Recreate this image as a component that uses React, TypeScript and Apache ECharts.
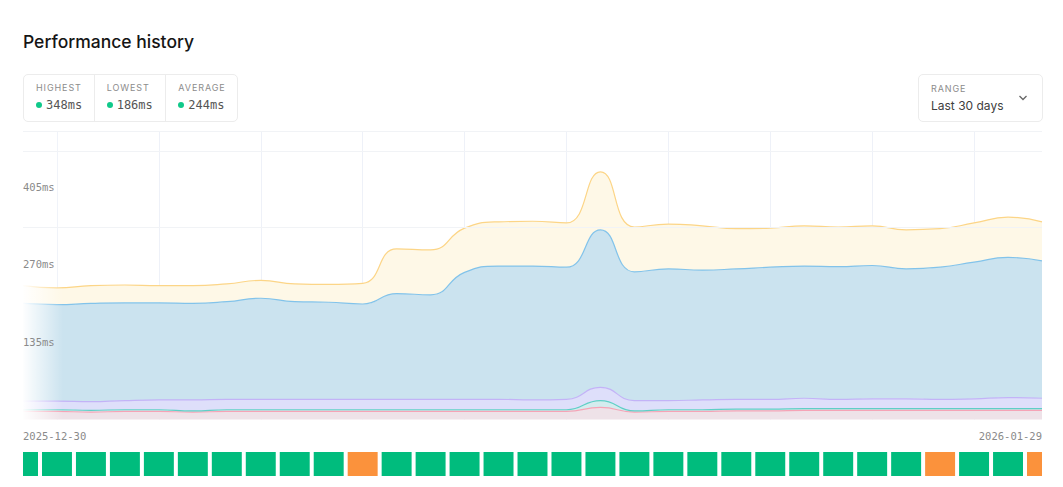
import { useEffect, useRef } from 'react';
import * as echarts from 'echarts';

// one point per day, 2025-12-30 .. 2026-01-29
const days = [
  '2025-12-30', '2025-12-31', '2026-01-01', '2026-01-02', '2026-01-03', '2026-01-04',
  '2026-01-05', '2026-01-06', '2026-01-07', '2026-01-08', '2026-01-09', '2026-01-10',
  '2026-01-11', '2026-01-12', '2026-01-13', '2026-01-14', '2026-01-15', '2026-01-16',
  '2026-01-17', '2026-01-18', '2026-01-19', '2026-01-20', '2026-01-21', '2026-01-22',
  '2026-01-23', '2026-01-24', '2026-01-25', '2026-01-26', '2026-01-27', '2026-01-28',
  '2026-01-29',
];

// stacked timing phases, bottom to top (ms)
const dnsMs = [14, 14, 13, 14, 14, 13, 14, 14, 14, 14, 14, 14, 14, 14, 14, 14, 14, 21, 13, 14, 14, 15, 15, 16, 16, 16, 16, 16, 16, 16, 16];
const connectMs = [3, 3, 3, 3, 3, 2, 3, 3, 3, 3, 3, 3, 3, 3, 3, 3, 3, 12, 2, 3, 3, 3, 3, 3, 3, 3, 3, 3, 3, 3, 3];
const tlsMs = [15, 15, 15, 16, 17, 19, 18, 18, 18, 18, 18, 18, 18, 18, 18, 17, 18, 23, 18, 16, 17, 17, 17, 18, 16, 17, 17, 16, 17, 19, 18];
const ttfbMs = [170, 168, 171, 170, 169, 168, 170, 176, 170, 169, 166, 184, 182, 221, 232, 233, 230, 274, 224, 229, 226, 227, 230, 230, 231, 232, 226, 230, 238, 244, 239];
const transferMs = [31, 29, 31, 31, 30, 31, 31, 31, 31, 31, 36, 78, 78, 77, 77, 78, 77, 101, 78, 78, 77, 70, 68, 70, 69, 69, 68, 67, 68, 70, 68];

// daily status strip: 0 = up, 1 = degraded
const dayStatus = [0, 0, 0, 0, 0, 0, 0, 0, 0, 0, 1, 0, 0, 0, 0, 0, 0, 0, 0, 0, 0, 0, 0, 0, 0, 0, 0, 1, 0, 0, 1];
const statusColors = ['#00bc7d', '#fb923c'];

const statLabels = ['HIGHEST', 'LOWEST', 'AVERAGE'];
const statValues = [348, 186, 244];

const yMax = 502;
const yStep = 135;
const guideValues = [502, 466, 335];

const layers = [
  { name: 'DNS', data: dnsMs, line: '#f6a3b6', fill: '#eee2e8' },
  { name: 'Connect', data: connectMs, line: '#5fcfc6', fill: '#d4ecee' },
  { name: 'TLS', data: tlsMs, line: '#c3b3f7', fill: '#dedffa' },
  { name: 'TTFB', data: ttfbMs, line: '#82c3ea', fill: '#cbe3ef' },
  { name: 'Transfer', data: transferMs, line: '#fcd587', fill: '#fef8e7' },
];

const MONO = '"DejaVu Sans Mono", monospace';
const SANS = 'Inter, "Noto Sans", sans-serif';

function HistoryChart() {
  const ref = useRef<HTMLDivElement>(null);

  useEffect(() => {
    if (!ref.current) return;
    const chart = echarts.init(ref.current, undefined, { renderer: 'svg' });

    chart.setOption({
      animation: false,
      grid: [
        { left: 23, right: 21, top: 131, height: 288.5 },
        { left: 23, right: 21, top: 452, height: 24 },
      ],
      xAxis: [
        {
          type: 'category',
          gridIndex: 0,
          data: days,
          boundaryGap: false,
          axisLine: { show: false },
          axisTick: { show: false },
          splitLine: {
            show: true,
            interval: (i: number) => i % 3 === 1,
            lineStyle: { color: '#eef1f8', width: 1 },
          },
          axisLabel: {
            interval: (i: number) => i === 0 || i === days.length - 1,
            alignMinLabel: 'left',
            alignMaxLabel: 'right',
            margin: 11,
            color: '#8a8a8a',
            fontFamily: MONO,
            fontSize: 10.5,
          },
        },
        { type: 'value', gridIndex: 1, min: 0, max: days.length - 1, show: false },
      ],
      yAxis: [
        {
          type: 'value',
          gridIndex: 0,
          min: 0,
          max: yMax,
          interval: yStep,
          z: 10,
          axisLine: { show: false },
          axisTick: { show: false },
          splitLine: { show: false },
          axisLabel: {
            inside: true,
            margin: 0,
            color: '#8a8a8a',
            fontFamily: MONO,
            fontSize: 10.5,
            formatter: (v: number) => (v > 0 && v % yStep === 0 ? `${v}ms` : ''),
          },
        },
        { type: 'value', gridIndex: 1, min: 0, max: 1, show: false },
      ],
      graphic: [
        {
          type: 'rect',
          left: 23,
          top: 131,
          z: 5,
          silent: true,
          shape: { width: 40, height: 289 },
          style: {
            fill: new echarts.graphic.LinearGradient(0, 0, 1, 0, [
              { offset: 0, color: 'rgba(255,255,255,0.97)' },
              { offset: 1, color: 'rgba(255,255,255,0)' },
            ]),
          },
        },
      ],
      series: [
        {
          type: 'line',
          xAxisIndex: 0,
          yAxisIndex: 0,
          data: [],
          z: 1,
          markLine: {
            silent: true,
            symbol: 'none',
            label: { show: false },
            lineStyle: { color: '#f1f3f6', width: 1, type: 'solid' },
            data: guideValues.map((v) => ({ yAxis: v })),
          },
        },
        ...layers.map((l) => ({
          name: l.name,
          type: 'line',
          xAxisIndex: 0,
          yAxisIndex: 0,
          stack: 'timing',
          smooth: 0.5,
          showSymbol: false,
          z: 2,
          lineStyle: { color: l.line, width: 1.2 },
          itemStyle: { color: l.line },
          areaStyle: { color: l.fill, opacity: 1 },
          data: l.data,
        })),
        {
          type: 'custom',
          xAxisIndex: 1,
          yAxisIndex: 1,
          data: dayStatus.map((s, i) => [i, s]),
          renderItem: (params: any, api: any) => {
            const i = api.value(0);
            const top = api.coord([i, 1]);
            const bottom = api.coord([i, 0]);
            const w = api.size([1, 0])[0] - 4;
            const cs = params.coordSys;
            const shape = echarts.graphic.clipRectByRect(
              { x: top[0] - w / 2, y: top[1], width: w, height: bottom[1] - top[1] },
              { x: cs.x, y: cs.y, width: cs.width, height: cs.height },
            );
            return shape && { type: 'rect', shape, style: { fill: statusColors[api.value(1)] } };
          },
        },
      ],
    });

    return () => chart.dispose();
  }, []);

  return <div ref={ref} style={{ position: 'absolute', left: 0, top: 0, width: 1063, height: 487 }} />;
}

export default function App() {
  return (
    <div style={{ position: 'fixed', left: 0, top: 0, width: 1063, height: 487, background: '#fff', overflow: 'hidden' }}>
      <HistoryChart />

      <div style={{ position: 'absolute', left: 23, top: 30, fontFamily: SANS, fontSize: 17.5, fontWeight: 500, color: '#151515', lineHeight: '24px' }}>
        Performance history
      </div>

      <div
        style={{
          position: 'absolute', left: 23, top: 74, width: 215, height: 48, boxSizing: 'border-box',
          border: '1px solid #ececec', borderRadius: 5, display: 'flex',
        }}
      >
        {statLabels.map((label, i) => (
          <div
            key={label}
            style={{
              width: i === 0 ? 70 : 72, boxSizing: 'border-box', paddingLeft: 12, paddingTop: 7,
              borderLeft: i === 0 ? 'none' : '1px solid #ececec',
            }}
          >
            <div style={{ fontFamily: SANS, fontSize: 9, letterSpacing: 0.9, color: '#8c8c8c', lineHeight: '12px' }}>{label}</div>
            <div style={{ display: 'flex', alignItems: 'center', marginTop: 3, height: 16 }}>
              <span style={{ width: 6, height: 6, borderRadius: 3, background: '#10c98a', marginRight: 4 }} />
              <span style={{ fontFamily: MONO, fontSize: 12, color: '#555', lineHeight: '16px' }}>{statValues[i]}ms</span>
            </div>
          </div>
        ))}
      </div>

      <div
        style={{
          position: 'absolute', left: 918, top: 74, width: 125, height: 48, boxSizing: 'border-box',
          border: '1px solid #ececec', borderRadius: 5,
        }}
      >
        <div style={{ position: 'absolute', left: 12, top: 8, fontFamily: SANS, fontSize: 9, letterSpacing: 0.9, color: '#8c8c8c', lineHeight: '12px' }}>
          RANGE
        </div>
        <div style={{ position: 'absolute', left: 12, top: 22, fontFamily: SANS, fontSize: 12, color: '#404040', lineHeight: '18px' }}>
          Last 30 days
        </div>
        <svg style={{ position: 'absolute', left: 99, top: 19 }} width={10} height={8} viewBox="0 0 10 8">
          <polyline points="1.5,2 5,5.5 8.5,2" fill="none" stroke="#666" strokeWidth={1.3} />
        </svg>
      </div>
    </div>
  );
}
